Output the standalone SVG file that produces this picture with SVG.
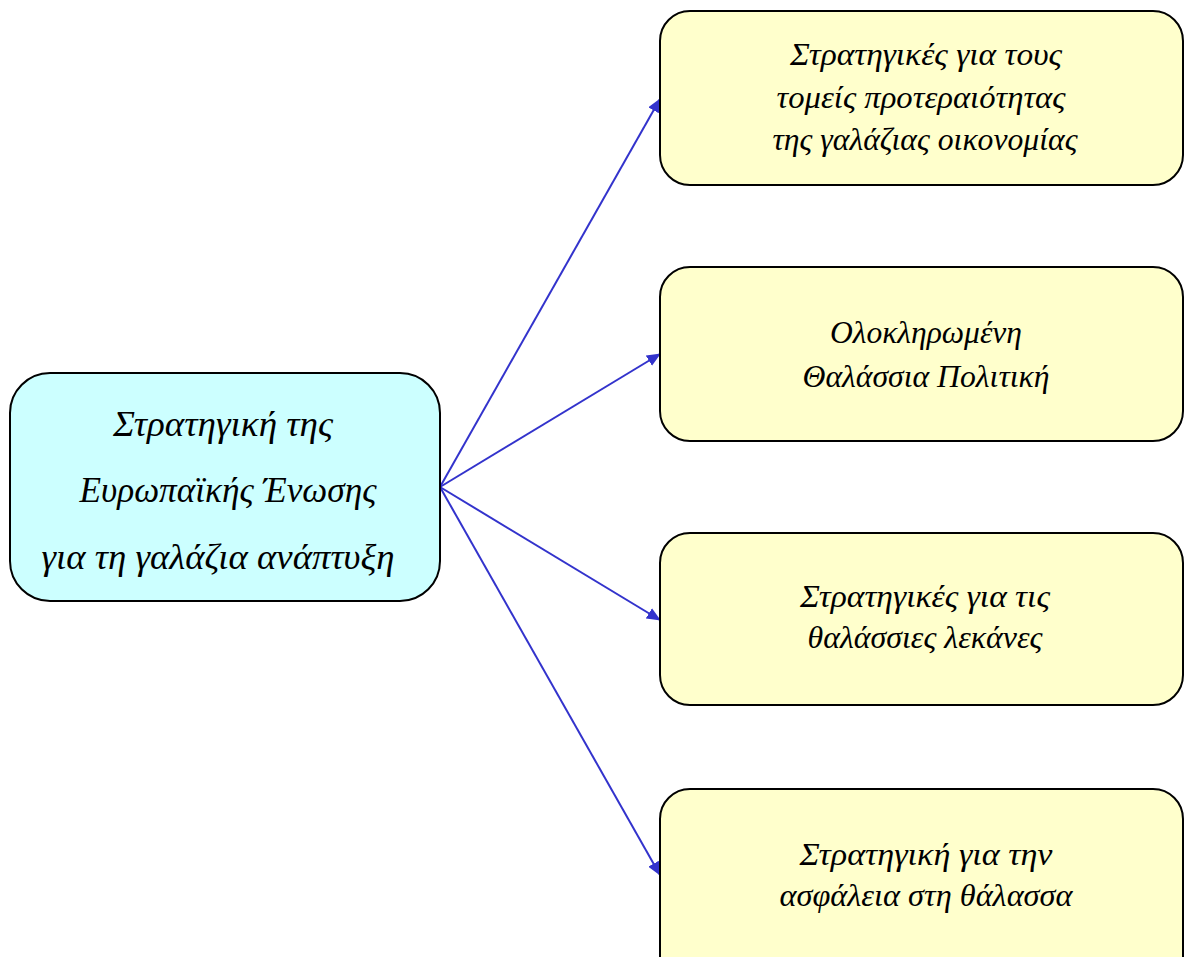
<svg xmlns="http://www.w3.org/2000/svg" width="1184" height="957" viewBox="0 0 1184 957">
<style>
.box{stroke:#000;stroke-width:2}
.l{fill:#CCFFFF}
.r{fill:#FFFFCC}
text{font-family:"Liberation Serif","DejaVu Serif",serif;font-style:italic;font-size:31px;fill:#000;text-anchor:middle}
.big{font-size:36px}
.c{stroke:#3333CC;stroke-width:2;fill:none;marker-end:url(#a)}
</style>
<defs>
<marker id="a" markerWidth="14" markerHeight="12" refX="13" refY="6" orient="auto" markerUnits="userSpaceOnUse" viewBox="0 0 14 12">
<path d="M0,0 L14,6 L0,12 z" fill="#3333CC"/>
</marker>
</defs>
<rect width="1184" height="957" fill="#fff"/>
<g id="connectors">
<line class="c" x1="440" y1="487" x2="660" y2="99"/>
<line class="c" x1="440" y1="487" x2="660" y2="354"/>
<line class="c" x1="440" y1="487" x2="660" y2="620"/>
<line class="c" x1="440" y1="487" x2="660" y2="875"/>
</g>
<g id="n0">
<rect class="box l" x="10" y="373" width="430" height="228" rx="40"/>
<text class="big" x="223" y="436" textLength="220" lengthAdjust="spacingAndGlyphs">Στρατηγική της</text>
<text class="big" x="228" y="502" textLength="297" lengthAdjust="spacingAndGlyphs">Ευρωπαϊκής Ένωσης</text>
<text class="big" x="218" y="569" textLength="353" lengthAdjust="spacingAndGlyphs">για τη γαλάζια  ανάπτυξη</text>
</g>
<g id="n1">
<rect class="box r" x="660" y="11" width="523" height="174" rx="30"/>
<text x="926" y="65" textLength="272" lengthAdjust="spacingAndGlyphs">Στρατηγικές για τους</text>
<text x="921" y="108" textLength="289" lengthAdjust="spacingAndGlyphs">τομείς προτεραιότητας</text>
<text x="925" y="150" textLength="305" lengthAdjust="spacingAndGlyphs">της γαλάζιας οικονομίας</text>
</g>
<g id="n2">
<rect class="box r" x="660" y="267" width="523" height="174" rx="30"/>
<text x="926" y="343" textLength="192" lengthAdjust="spacingAndGlyphs">Ολοκληρωμένη</text>
<text x="926" y="387" textLength="247" lengthAdjust="spacingAndGlyphs">Θαλάσσια Πολιτική</text>
</g>
<g id="n3">
<rect class="box r" x="660" y="533" width="523" height="172" rx="30"/>
<text x="925" y="607" textLength="250" lengthAdjust="spacingAndGlyphs">Στρατηγικές για τις</text>
<text x="925" y="648" textLength="235" lengthAdjust="spacingAndGlyphs">θαλάσσιες λεκάνες</text>
</g>
<g id="n4">
<rect class="box r" x="660" y="789" width="523" height="200" rx="30"/>
<text x="926" y="865" textLength="253" lengthAdjust="spacingAndGlyphs">Στρατηγική για την</text>
<text x="926" y="906" textLength="293" lengthAdjust="spacingAndGlyphs">ασφάλεια στη  θάλασσα</text>
</g>
</svg>
